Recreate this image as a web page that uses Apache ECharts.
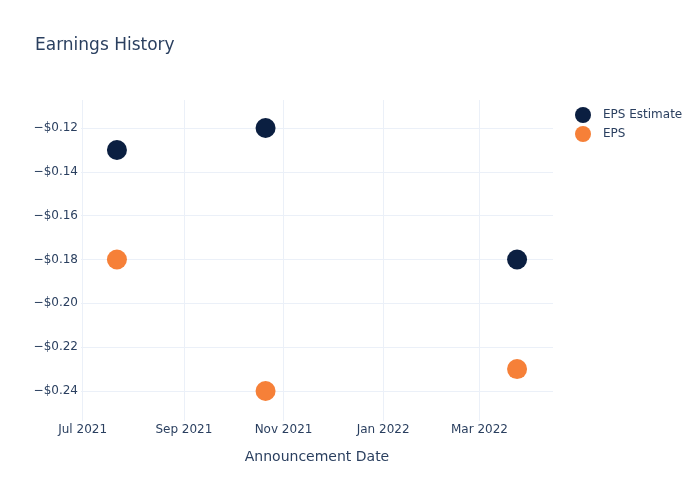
<!DOCTYPE html>
<html><head><meta charset="utf-8">
<script src="https://cdn.jsdelivr.net/npm/echarts@6/dist/echarts.min.js"></script>
<style>html,body{margin:0;padding:0;background:#fff}#c{width:700px;height:500px}</style>
</head><body><div id="c"></div>
<script>
const dates = ['2021-07-22', '2021-10-21', '2022-03-24'];
const epsEstimate = [-0.13, -0.12, -0.18];
const epsActual = [-0.18, -0.24, -0.23];
const yTicks = [-0.24, -0.22, -0.20, -0.18, -0.16, -0.14, -0.12];
const xTicks = ['2021-07-01', '2021-09-01', '2021-11-01', '2022-01-01', '2022-03-01'];
const monthNames = ['Jan','Feb','Mar','Apr','May','Jun','Jul','Aug','Sep','Oct','Nov','Dec'];

const ts = s => new Date(s + 'T00:00:00Z').getTime();
const font = 'DejaVu Sans, sans-serif';
const chart = echarts.init(document.getElementById('c'), null, {renderer: 'canvas'});
chart.setOption({
  animation: false,
  backgroundColor: '#fff',
  title: {text: 'Earnings History', left: 30, top: 32, textStyle: {fontFamily: font, fontSize: 17, fontWeight: 'normal', color: '#2a3f5f'}},
  legend: {
    orient: 'vertical', left: 570, top: 102, icon: 'circle', itemWidth: 16, itemHeight: 16, itemGap: 3,
    textStyle: {fontFamily: font, fontSize: 12, color: '#2a3f5f', padding: [0, 0, 0, 7]},
    data: ['EPS Estimate', 'EPS']
  },
  grid: {left: 81, right: 147, top: 100, bottom: 79, containLabel: false},
  xAxis: {
    type: 'value',
    min: ts('2021-06-30'), max: ts('2022-04-15'),
    name: 'Announcement Date', nameLocation: 'middle', nameGap: 29,
    nameTextStyle: {fontFamily: font, fontSize: 14, color: '#2a3f5f'},
    axisLine: {show: false},
    axisTick: {show: false, customValues: xTicks.map(ts)},
    splitLine: {show: true, lineStyle: {color: '#ebf0f8', width: 1}},
    axisLabel: {
      customValues: xTicks.map(ts),
      fontFamily: font, fontSize: 12, color: '#2a3f5f', margin: 3,
      formatter: v => { const d = new Date(v); return monthNames[d.getUTCMonth()] + ' ' + d.getUTCFullYear(); }
    }
  },
  yAxis: {
    type: 'value',
    min: -0.2537, max: -0.1072,
    axisLine: {show: false},
    axisTick: {show: false, customValues: yTicks},
    splitLine: {show: true, lineStyle: {color: '#ebf0f8', width: 1}},
    axisLabel: {
      customValues: yTicks,
      fontFamily: font, fontSize: 12, color: '#2a3f5f', margin: 3,
      formatter: v => '\u2212$' + Math.abs(v).toFixed(2)
    }
  },
  series: [
    {name: 'EPS Estimate', type: 'scatter', symbolSize: 20, itemStyle: {color: '#0b1f41', opacity: 1},
     data: dates.map((d, i) => [ts(d), epsEstimate[i]])},
    {name: 'EPS', type: 'scatter', symbolSize: 20, itemStyle: {color: '#f68038', opacity: 1},
     data: dates.map((d, i) => [ts(d), epsActual[i]])}
  ]
});
</script></body></html>
